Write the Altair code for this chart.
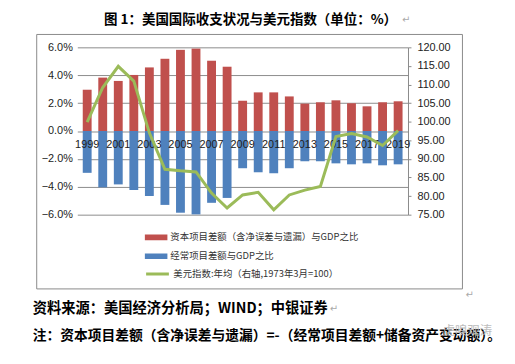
import altair as alt
import pandas as pd

years = list(range(1999, 2020))
capital = [2.96, 3.83, 3.59, 4.02, 4.56, 5.18, 5.82, 5.91, 5.04, 4.61, 2.17,
           2.77, 2.77, 2.48, 1.96, 2.06, 2.20, 1.99, 1.77, 2.06, 2.13]
current = [-3.00, -4.04, -3.83, -4.23, -4.66, -5.30, -5.86, -5.98, -5.15, -4.80, -2.67,
           -2.96, -3.03, -2.67, -2.17, -2.17, -2.32, -2.39, -2.32, -2.46, -2.39]
dollar = [99.9, 109.2, 114.9, 110.9, 97.0, 87.2, 86.8, 86.5, 80.8, 76.8, 80.3,
          81.0, 76.3, 80.3, 81.6, 82.6, 96.0, 96.8, 95.9, 93.6, 97.6]
year_labels = [str(y) for y in years if y % 2 == 1]
left_ticks = [-6, -4, -2, 0, 2, 4, 6]
right_ticks = [75, 80, 85, 90, 95, 100, 105, 110, 115, 120]

cap_label = "资本项目差额（含净误差与遗漏）与GDP之比"
cur_label = "经常项目差额与GDP之比"
usd_label = "美元指数:年均（右轴,1973年3月=100）"
title_text = "图 1：美国国际收支状况与美元指数（单位：%）"
source_text = "资料来源：美国经济分析局；WIND；中银证券"
note_text = "注：资本项目差额（含净误差与遗漏）=-（经常项目差额+储备资产变动额）。"

bars_df = pd.DataFrame({
    "year": years * 2,
    "value": capital + current,
    "series": [cap_label] * len(years) + [cur_label] * len(years),
})
line_df = pd.DataFrame({"year": years, "dollar": dollar, "name": [usd_label] * len(years)})
lab_df = pd.DataFrame({"year": [int(s) for s in year_labels], "label": year_labels,
                       "zero": [0] * len(year_labels)})

NUM_FONT = "Liberation Sans"
CJK = "Noto Sans CJK SC"

x_scale = alt.Scale(paddingInner=0.43, paddingOuter=0.35)
left_scale = alt.Scale(domain=[-6, 6], nice=False, zero=False)

frame = alt.Chart(pd.DataFrame({"a": [0]})).mark_rect(
    fillOpacity=0, stroke="#8a8a8a", strokeWidth=1
).encode(x=alt.value(-41), x2=alt.value(389), y=alt.value(-13), y2=alt.value(244))

bars = alt.Chart(bars_df).mark_bar().encode(
    x=alt.X("year:O", scale=x_scale, axis=None),
    y=alt.Y("value:Q", stack=None, scale=left_scale,
            axis=alt.Axis(orient="left", values=left_ticks,
                          labelExpr="format(datum.value,'.1f')+'%'",
                          grid=True, gridColor="#8c8c8c", gridWidth=1,
                          domain=False, ticks=False, labelFont=NUM_FONT,
                          labelFontSize=11, labelColor="#222", labelPadding=5,
                          title=None)),
    color=alt.Color("series:N",
                    scale=alt.Scale(domain=[cap_label, cur_label],
                                    range=["#C0504D", "#4F81BD"]),
                    legend=alt.Legend(orient="none", legendX=68, legendY=185,
                                      title=None,
                                      symbolType="M-1,-0.25H1V0.25H-1Z",
                                      symbolSize=529, symbolStrokeWidth=0,
                                      labelFont=CJK, labelFontSize=9.5,
                                      labelColor="#333", labelOffset=3,
                                      labelLimit=400,
                                      rowPadding=5, clipHeight=14)),
)

year_text = alt.Chart(lab_df).mark_text(
    font=NUM_FONT, fontSize=11, color="#222", baseline="middle", dy=14
).encode(
    x=alt.X("year:O", bandPosition=0.5, scale=x_scale, axis=None),
    y=alt.Y("zero:Q", scale=left_scale, axis=None),
    text="label:N",
)

line = alt.Chart(line_df).mark_line(strokeWidth=3).encode(
    x=alt.X("year:O", bandPosition=0.5, scale=x_scale, axis=None),
    y=alt.Y("dollar:Q", scale=alt.Scale(domain=[75, 120], nice=False, zero=False),
            axis=alt.Axis(orient="right", values=right_ticks, format=".2f",
                          grid=False, domain=True, domainColor="#8a8a8a",
                          ticks=True, tickColor="#8a8a8a", tickSize=3,
                          labelFont=NUM_FONT, labelFontSize=11, labelColor="#222",
                          labelPadding=6, title=None)),
    stroke=alt.Stroke("name:N", scale=alt.Scale(domain=[usd_label], range=["#9BBB59"]),
                      legend=alt.Legend(orient="none", legendX=68, legendY=222,
                                        title=None, symbolType="stroke",
                                        symbolSize=529, symbolStrokeWidth=3,
                                        labelFont=CJK, labelFontSize=9.5,
                                        labelColor="#333", labelOffset=3,
                                        labelLimit=400, clipHeight=14)),
)


def txt(s, x, y, size, weight="normal", color="#000", align="left", font=CJK):
    return alt.Chart(pd.DataFrame({"t": [s]})).mark_text(
        font=font, fontSize=size, fontWeight=weight, color=color, align=align,
        baseline="middle"
    ).encode(x=alt.value(x), y=alt.value(y), text="t:N")


title = txt(title_text, 175, -28, 13.6, "bold", "#000", "center")
ret1 = txt("↵", 328, -28, 10, color="#aaa", font="DejaVu Sans")
source = txt(source_text, -45, 264, 14.4, "bold")
ret2 = txt("↵", 255, 264, 10, color="#aaa", font="DejaVu Sans")
note = txt(note_text, -45, 292, 13.9, "bold")
ret3 = txt("↵", 392, 250, 10, color="#aaa", font="DejaVu Sans")
wm = txt("虎嗅观涛", 419, 287, 12.5, color="#bdbdbd", align="right")

chart = alt.layer(frame, bars, year_text, line, title, ret1, source, ret2, note,
                  ret3, wm).resolve_scale(
    y="independent"
).properties(
    width=334, height=169, autosize="none",
    padding={"left": 70, "top": 38, "right": 100, "bottom": 139},
    background="white",
).configure_view(strokeWidth=0)

chart.save("out.html", embed_options={"renderer": "svg", "actions": False})
